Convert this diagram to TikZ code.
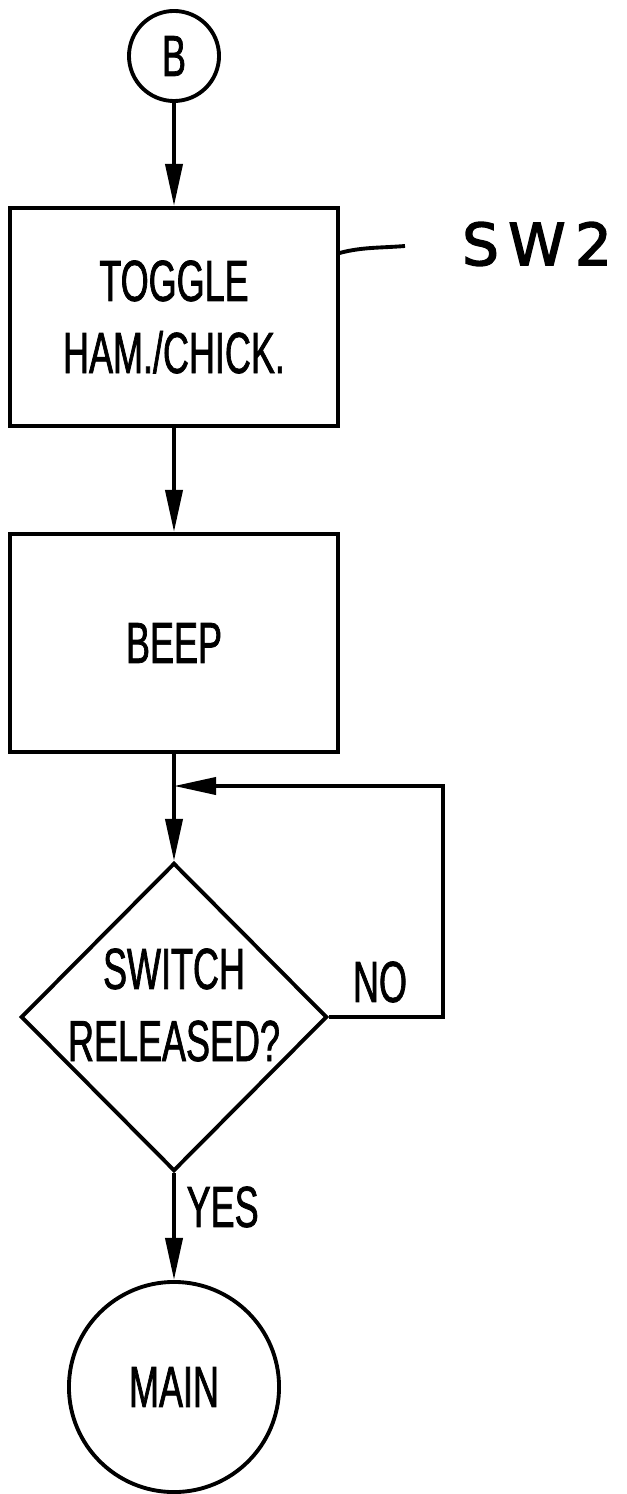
\documentclass[tikz,border=0pt]{standalone}
\usepackage{fontspec}
\newfontfamily\flowfont{Liberation Sans}[FakeStretch=0.62,FakeBold=1.2]
\newfontfamily\handfont{DejaVu Sans}[LetterSpace=16,FakeBold=2.5]
\usetikzlibrary{positioning,shapes.geometric,arrows.meta}

\begin{document}
\begin{tikzpicture}[x=0.01cm,y=-0.01cm,line width=1.1pt,
>={Triangle[length=4.2mm,width=1.7mm]},
every node/.style={font=\flowfont\fontsize{16.5}{20.5}\selectfont,align=center},
box/.style={rectangle,draw,minimum width=3.27cm,minimum height=2.18cm},
conn/.style={circle,draw,inner sep=0pt},
decide/.style={diamond,draw,aspect=1,inner sep=0pt,minimum width=3.06cm,minimum height=3.08cm}]
\useasboundingbox (0,0) rectangle (626,1494);

% flow column
\node[conn,minimum size=0.9cm] (B) at (174,56) {B};
\node[box] (tog) at (174,317) {TOGGLE\\HAM./CHICK.};
\node[box] (beep) at (174,643) {BEEP};
\node[decide] (sw) at (174,1017) {};
\node (swtxt) at (174,1005) {SWITCH\\RELEASED?};
\node[conn,minimum size=2.1cm] (main) at (174,1387) {MAIN};

\foreach \F/\T in {B/tog,tog/beep,beep/sw,sw/main}
  \draw[->] (\F) -- (\T);

% loop back while the switch is held
\coordinate (join) at (174,786);
\coordinate (back) at (443,786);
\draw[->] (sw.east) -| (back) -- (join);
\node (no) at (380,982) {NO};
\node[anchor=west] (yes) at (173,1207) {YES};

% reference mark
\node[font=\handfont\fontsize{16.5}{20}\selectfont] (sw2) at (537,244) {SW2};
\coordinate (lead) at (405,246);
\draw (tog.east |- 0,253) .. controls (362,247) and (380,248) .. (lead);
\end{tikzpicture}
\end{document}
